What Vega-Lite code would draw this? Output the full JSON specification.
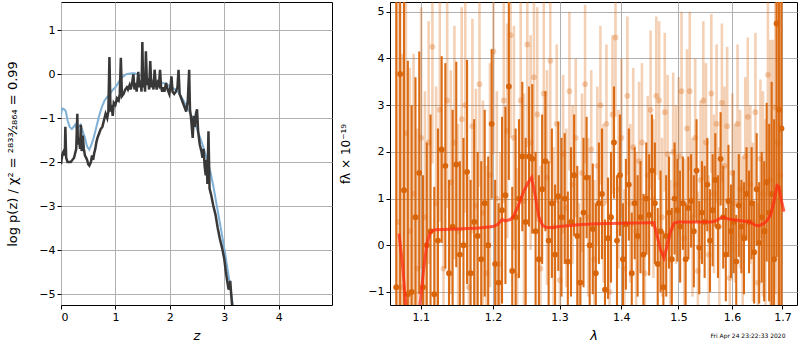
{
  "$schema": "https://vega.github.io/schema/vega-lite/v6.json",
  "padding": {"left": 6, "top": 1, "right": 1, "bottom": 0},
  "spacing": 6,
  "background": "white",
  "title": {"text": "Fri Apr 24 23:22:33 2020", "orient": "bottom", "anchor": "end", "fontSize": 6, "fontWeight": "normal", "font": "DejaVu Sans", "color": "black", "offset": -10, "dx": -12},
  "config": {
    "font": "DejaVu Sans",
    "view": {"stroke": "black", "strokeWidth": 1},
    "axis": {
      "grid": true, "gridColor": "#b0b0b0", "gridWidth": 1, "domain": false,
      "tickColor": "black", "tickSize": 4, "tickWidth": 1,
      "labelFontSize": 11, "labelColor": "black", "labelPadding": 2,
      "titleFontSize": 12, "titleFontWeight": "normal", "titleColor": "black", "titleFont": "DejaVu Sans",
      "labelExpr": "replace(datum.label, '-', '−')"
    }
  },
  "datasets": {
    "pz": [
      {"s":"prior","z":0.00,"v":-0.95},{"s":"prior","z":0.02,"v":-0.78},{"s":"prior","z":0.06,"v":-0.8},{"s":"prior","z":0.09,"v":-0.85},{"s":"prior","z":0.12,"v":-1.05},{"s":"prior","z":0.16,"v":-1.2},{"s":"prior","z":0.20,"v":-1.25},{"s":"prior","z":0.23,"v":-1.2},{"s":"prior","z":0.26,"v":-1.15},{"s":"prior","z":0.29,"v":-1.25},{"s":"prior","z":0.32,"v":-1.2},{"s":"prior","z":0.36,"v":-1.15},{"s":"prior","z":0.40,"v":-1.3},{"s":"prior","z":0.44,"v":-1.45},{"s":"prior","z":0.48,"v":-1.65},{"s":"prior","z":0.52,"v":-1.72},{"s":"prior","z":0.56,"v":-1.6},{"s":"prior","z":0.60,"v":-1.45},{"s":"prior","z":0.65,"v":-1.2},{"s":"prior","z":0.70,"v":-0.95},{"s":"prior","z":0.75,"v":-0.75},{"s":"prior","z":0.80,"v":-0.6},{"s":"prior","z":0.85,"v":-0.52},{"s":"prior","z":0.90,"v":-0.45},{"s":"prior","z":0.95,"v":-0.36},{"s":"prior","z":1.00,"v":-0.3},{"s":"prior","z":1.05,"v":-0.2},{"s":"prior","z":1.10,"v":-0.1},{"s":"prior","z":1.15,"v":-0.05},{"s":"prior","z":1.20,"v":0.0},{"s":"prior","z":1.25,"v":0.01},{"s":"prior","z":1.30,"v":0.02},{"s":"prior","z":1.35,"v":0.02},{"s":"prior","z":1.40,"v":0.0},{"s":"prior","z":1.50,"v":-0.05},{"s":"prior","z":1.60,"v":-0.1},{"s":"prior","z":1.70,"v":-0.15},{"s":"prior","z":1.80,"v":-0.18},{"s":"prior","z":1.90,"v":-0.21},{"s":"prior","z":2.00,"v":-0.27},{"s":"prior","z":2.10,"v":-0.35},{"s":"prior","z":2.15,"v":-0.4},{"s":"prior","z":2.20,"v":-0.5},{"s":"prior","z":2.25,"v":-0.6},{"s":"prior","z":2.30,"v":-0.72},{"s":"prior","z":2.35,"v":-0.83},{"s":"prior","z":2.40,"v":-0.95},{"s":"prior","z":2.45,"v":-1.1},{"s":"prior","z":2.50,"v":-1.25},{"s":"prior","z":2.55,"v":-1.42},{"s":"prior","z":2.60,"v":-1.6},{"s":"prior","z":2.65,"v":-1.8},{"s":"prior","z":2.70,"v":-2.0},{"s":"prior","z":2.75,"v":-2.25},{"s":"prior","z":2.80,"v":-2.55},{"s":"prior","z":2.85,"v":-2.9},{"s":"prior","z":2.90,"v":-3.25},{"s":"prior","z":2.95,"v":-3.6},{"s":"prior","z":3.00,"v":-3.95},{"s":"prior","z":3.05,"v":-4.35},{"s":"prior","z":3.10,"v":-4.75},{"s":"prior","z":3.17,"v":-5.35},
      {"s":"pz","z":0.00,"v":-2.05},{"s":"pz","z":0.01,"v":-1.95},{"s":"pz","z":0.03,"v":-1.8},{"s":"pz","z":0.05,"v":-1.75},{"s":"pz","z":0.07,"v":-1.85},{"s":"pz","z":0.08,"v":-1.2},{"s":"pz","z":0.095,"v":-1.9},{"s":"pz","z":0.12,"v":-2.0},{"s":"pz","z":0.15,"v":-2.0},{"s":"pz","z":0.18,"v":-2.0},{"s":"pz","z":0.21,"v":-1.95},{"s":"pz","z":0.24,"v":-1.9},{"s":"pz","z":0.26,"v":-1.8},{"s":"pz","z":0.28,"v":-1.7},{"s":"pz","z":0.30,"v":-0.9},{"s":"pz","z":0.31,"v":-1.6},{"s":"pz","z":0.33,"v":-1.45},{"s":"pz","z":0.35,"v":-1.7},{"s":"pz","z":0.365,"v":-1.15},{"s":"pz","z":0.38,"v":-1.75},{"s":"pz","z":0.40,"v":-1.4},{"s":"pz","z":0.42,"v":-1.7},{"s":"pz","z":0.44,"v":-1.85},{"s":"pz","z":0.46,"v":-1.9},{"s":"pz","z":0.48,"v":-1.95},{"s":"pz","z":0.50,"v":-2.05},{"s":"pz","z":0.52,"v":-2.08},{"s":"pz","z":0.55,"v":-2.0},{"s":"pz","z":0.57,"v":-1.85},{"s":"pz","z":0.59,"v":-1.95},{"s":"pz","z":0.61,"v":-1.8},{"s":"pz","z":0.63,"v":-1.7},{"s":"pz","z":0.65,"v":-1.55},{"s":"pz","z":0.67,"v":-1.45},{"s":"pz","z":0.70,"v":-1.35},{"s":"pz","z":0.73,"v":-1.25},{"s":"pz","z":0.76,"v":-1.2},{"s":"pz","z":0.79,"v":-1.05},{"s":"pz","z":0.82,"v":-0.9},{"s":"pz","z":0.85,"v":-1.0},{"s":"pz","z":0.87,"v":-0.85},{"s":"pz","z":0.89,"v":0.39},{"s":"pz","z":0.91,"v":-0.85},{"s":"pz","z":0.93,"v":-0.7},{"s":"pz","z":0.95,"v":-0.95},{"s":"pz","z":0.97,"v":-0.65},{"s":"pz","z":1.00,"v":-0.7},{"s":"pz","z":1.03,"v":-0.55},{"s":"pz","z":1.06,"v":-0.6},{"s":"pz","z":1.08,"v":-0.45},{"s":"pz","z":1.10,"v":0.37},{"s":"pz","z":1.12,"v":-0.5},{"s":"pz","z":1.15,"v":-0.45},{"s":"pz","z":1.18,"v":-0.35},{"s":"pz","z":1.21,"v":-0.3},{"s":"pz","z":1.23,"v":-0.35},{"s":"pz","z":1.26,"v":-0.25},{"s":"pz","z":1.28,"v":-0.35},{"s":"pz","z":1.30,"v":-0.25},{"s":"pz","z":1.33,"v":0.0},{"s":"pz","z":1.35,"v":-0.35},{"s":"pz","z":1.37,"v":-0.2},{"s":"pz","z":1.39,"v":-0.4},{"s":"pz","z":1.42,"v":0.05},{"s":"pz","z":1.44,"v":-0.3},{"s":"pz","z":1.46,"v":-0.15},{"s":"pz","z":1.48,"v":-0.4},{"s":"pz","z":1.495,"v":0.73},{"s":"pz","z":1.51,"v":-0.3},{"s":"pz","z":1.53,"v":-0.05},{"s":"pz","z":1.545,"v":-0.4},{"s":"pz","z":1.56,"v":0.52},{"s":"pz","z":1.58,"v":-0.25},{"s":"pz","z":1.60,"v":-0.1},{"s":"pz","z":1.62,"v":-0.35},{"s":"pz","z":1.64,"v":0.3},{"s":"pz","z":1.66,"v":-0.3},{"s":"pz","z":1.68,"v":-0.15},{"s":"pz","z":1.70,"v":-0.35},{"s":"pz","z":1.72,"v":0.1},{"s":"pz","z":1.74,"v":-0.2},{"s":"pz","z":1.76,"v":-0.35},{"s":"pz","z":1.78,"v":-0.2},{"s":"pz","z":1.80,"v":-0.25},{"s":"pz","z":1.82,"v":0.1},{"s":"pz","z":1.84,"v":-0.3},{"s":"pz","z":1.86,"v":-0.4},{"s":"pz","z":1.88,"v":-0.3},{"s":"pz","z":1.90,"v":-0.4},{"s":"pz","z":1.93,"v":-0.2},{"s":"pz","z":1.96,"v":-0.35},{"s":"pz","z":1.99,"v":-0.45},{"s":"pz","z":2.01,"v":-0.3},{"s":"pz","z":2.03,"v":-0.05},{"s":"pz","z":2.05,"v":-0.4},{"s":"pz","z":2.08,"v":-0.45},{"s":"pz","z":2.11,"v":-0.4},{"s":"pz","z":2.14,"v":-0.3},{"s":"pz","z":2.16,"v":0.1},{"s":"pz","z":2.18,"v":-0.45},{"s":"pz","z":2.21,"v":-0.55},{"s":"pz","z":2.24,"v":-0.65},{"s":"pz","z":2.27,"v":-0.75},{"s":"pz","z":2.30,"v":-0.85},{"s":"pz","z":2.33,"v":-0.6},{"s":"pz","z":2.355,"v":0.1},{"s":"pz","z":2.37,"v":-0.8},{"s":"pz","z":2.39,"v":-1.0},{"s":"pz","z":2.41,"v":-1.3},{"s":"pz","z":2.42,"v":-1.45},{"s":"pz","z":2.44,"v":-0.95},{"s":"pz","z":2.46,"v":-1.2},{"s":"pz","z":2.48,"v":-0.9},{"s":"pz","z":2.50,"v":-0.8},{"s":"pz","z":2.52,"v":-1.3},{"s":"pz","z":2.55,"v":-1.6},{"s":"pz","z":2.58,"v":-1.75},{"s":"pz","z":2.60,"v":-1.9},{"s":"pz","z":2.62,"v":-1.7},{"s":"pz","z":2.64,"v":-2.1},{"s":"pz","z":2.66,"v":-2.3},{"s":"pz","z":2.68,"v":-1.95},{"s":"pz","z":2.69,"v":-2.5},{"s":"pz","z":2.71,"v":-1.3},{"s":"pz","z":2.73,"v":-2.6},{"s":"pz","z":2.76,"v":-2.75},{"s":"pz","z":2.80,"v":-3.0},{"s":"pz","z":2.84,"v":-3.2},{"s":"pz","z":2.88,"v":-3.5},{"s":"pz","z":2.92,"v":-3.75},{"s":"pz","z":2.96,"v":-3.95},{"s":"pz","z":3.00,"v":-4.2},{"s":"pz","z":3.03,"v":-4.5},{"s":"pz","z":3.06,"v":-4.75},{"s":"pz","z":3.08,"v":-4.9},{"s":"pz","z":3.10,"v":-4.8},{"s":"pz","z":3.11,"v":-4.7},{"s":"pz","z":3.13,"v":-5.05},{"s":"pz","z":3.15,"v":-5.35}
    ],
    "spec": [
      {"s":"b","w":1.0705,"f":0.5,"lo":-5.5,"hi":6.5},{"s":"b","w":1.0755,"f":-0.9,"lo":-5.9,"hi":4.1},{"s":"b","w":1.0805,"f":2.4,"lo":-1.6,"hi":6.4},{"s":"b","w":1.0855,"f":0.3,"lo":-3.2,"hi":3.8},{"s":"b","w":1.0905,"f":1.1,"lo":-1.9,"hi":4.1},{"s":"b","w":1.0955,"f":-0.5,"lo":-3.5,"hi":2.5},{"s":"b","w":1.1005,"f":2.3,"lo":-0.5,"hi":5.1},{"s":"b","w":1.1055,"f":0.6,"lo":-2.1,"hi":3.3},{"s":"b","w":1.1105,"f":2.2,"lo":-0.4,"hi":4.8},{"s":"b","w":1.1155,"f":4.25,"lo":1.75,"hi":6.75},{"s":"b","w":1.1205,"f":0.9,"lo":-1.6,"hi":3.4},{"s":"b","w":1.1255,"f":2.9,"lo":0.5,"hi":5.3},{"s":"b","w":1.1305,"f":-0.5,"lo":-3.0,"hi":2.0},{"s":"b","w":1.1355,"f":3.1,"lo":0.8,"hi":5.4},{"s":"b","w":1.1405,"f":1.35,"lo":-1.05,"hi":3.75},{"s":"b","w":1.1455,"f":2.2,"lo":-0.3,"hi":4.7},{"s":"b","w":1.1505,"f":0.3,"lo":-2.0,"hi":2.6},{"s":"b","w":1.1555,"f":2.7,"lo":0.3,"hi":5.1},{"s":"b","w":1.1605,"f":3.0,"lo":0.7,"hi":5.3},{"s":"b","w":1.1655,"f":-0.9,"lo":-3.3,"hi":1.5},{"s":"b","w":1.1705,"f":2.55,"lo":0.25,"hi":4.85},{"s":"b","w":1.1755,"f":0.85,"lo":-1.65,"hi":3.35},{"s":"b","w":1.1805,"f":3.45,"lo":1.25,"hi":5.65},{"s":"b","w":1.1855,"f":0.7,"lo":-1.7,"hi":3.1},{"s":"b","w":1.1905,"f":-0.6,"lo":-2.9,"hi":1.7},{"s":"b","w":1.1955,"f":1.5,"lo":-0.9,"hi":3.9},{"s":"b","w":1.2005,"f":4.15,"lo":1.95,"hi":6.35},{"s":"b","w":1.2055,"f":1.0,"lo":-1.3,"hi":3.3},{"s":"b","w":1.2105,"f":-0.4,"lo":-2.8,"hi":2.0},{"s":"b","w":1.2155,"f":3.1,"lo":0.9,"hi":5.3},{"s":"b","w":1.2205,"f":2.45,"lo":0.15,"hi":4.75},{"s":"b","w":1.2255,"f":4.5,"lo":2.3,"hi":6.7},{"s":"b","w":1.2305,"f":2.3,"lo":-0.1,"hi":4.7},{"s":"b","w":1.2355,"f":-0.65,"lo":-2.95,"hi":1.65},{"s":"b","w":1.2405,"f":3.1,"lo":0.9,"hi":5.3},{"s":"b","w":1.2455,"f":0.95,"lo":-1.35,"hi":3.25},{"s":"b","w":1.2505,"f":4.3,"lo":2.1,"hi":6.5},{"s":"b","w":1.2555,"f":2.2,"lo":-0.1,"hi":4.5},{"s":"b","w":1.2605,"f":3.6,"lo":1.4,"hi":5.8},{"s":"b","w":1.2655,"f":2.8,"lo":0.5,"hi":5.1},{"s":"b","w":1.2705,"f":-0.5,"lo":-2.7,"hi":1.7},{"s":"b","w":1.2755,"f":3.25,"lo":1.15,"hi":5.35},{"s":"b","w":1.2805,"f":1.45,"lo":-0.85,"hi":3.75},{"s":"b","w":1.2855,"f":3.95,"lo":1.75,"hi":6.15},
      {"s":"b","w":1.2905,"f":0.4,"lo":-1.3,"hi":2.1},{"s":"b","w":1.2955,"f":2.6,"lo":0.9,"hi":4.3},{"s":"b","w":1.3005,"f":-0.75,"lo":-2.45,"hi":0.95},{"s":"b","w":1.3055,"f":1.95,"lo":0.25,"hi":3.65},{"s":"b","w":1.3105,"f":0.8,"lo":-0.9,"hi":2.5},{"s":"b","w":1.3155,"f":3.3,"lo":1.6,"hi":5.0},{"s":"b","w":1.3205,"f":1.3,"lo":-0.4,"hi":3.0},{"s":"b","w":1.3255,"f":2.3,"lo":0.6,"hi":4.0},{"s":"b","w":1.3305,"f":-0.8,"lo":-2.5,"hi":0.9},{"s":"b","w":1.3355,"f":1.55,"lo":-0.15,"hi":3.25},{"s":"b","w":1.3405,"f":3.45,"lo":1.75,"hi":5.15},{"s":"b","w":1.3455,"f":0.6,"lo":-1.1,"hi":2.3},{"s":"b","w":1.3505,"f":2.05,"lo":0.35,"hi":3.75},{"s":"b","w":1.3555,"f":-0.3,"lo":-2.0,"hi":1.4},{"s":"b","w":1.3605,"f":1.7,"lo":0.0,"hi":3.4},{"s":"b","w":1.3655,"f":3.0,"lo":1.3,"hi":4.7},{"s":"b","w":1.3705,"f":0.9,"lo":-0.8,"hi":2.6},{"s":"b","w":1.3755,"f":2.6,"lo":0.9,"hi":4.3},{"s":"b","w":1.3805,"f":-1.0,"lo":-2.7,"hi":0.7},{"s":"b","w":1.3855,"f":2.8,"lo":1.1,"hi":4.5},{"s":"b","w":1.3905,"f":4.45,"lo":2.75,"hi":6.15},{"s":"b","w":1.3955,"f":1.2,"lo":-0.5,"hi":2.9},{"s":"b","w":1.4005,"f":2.3,"lo":0.6,"hi":4.0},{"s":"b","w":1.4055,"f":-0.5,"lo":-2.2,"hi":1.2},{"s":"b","w":1.4105,"f":3.2,"lo":1.5,"hi":4.9},{"s":"b","w":1.4155,"f":0.9,"lo":-0.8,"hi":2.6},{"s":"b","w":1.4205,"f":2.1,"lo":0.4,"hi":3.8},{"s":"b","w":1.4255,"f":0.3,"lo":-1.4,"hi":2.0},{"s":"b","w":1.4305,"f":1.8,"lo":0.1,"hi":3.5},{"s":"b","w":1.4355,"f":2.2,"lo":0.5,"hi":3.9},{"s":"b","w":1.4405,"f":-0.6,"lo":-2.3,"hi":1.1},{"s":"b","w":1.4455,"f":1.5,"lo":-0.2,"hi":3.2},{"s":"b","w":1.4505,"f":2.9,"lo":1.2,"hi":4.6},{"s":"b","w":1.4555,"f":1.0,"lo":-0.7,"hi":2.7},{"s":"b","w":1.4605,"f":3.2,"lo":1.5,"hi":4.9},{"s":"b","w":1.4655,"f":3.1,"lo":1.4,"hi":4.8},{"s":"b","w":1.4705,"f":0.6,"lo":-1.1,"hi":2.3},{"s":"b","w":1.4755,"f":2.85,"lo":1.15,"hi":4.55},{"s":"b","w":1.4805,"f":1.95,"lo":0.25,"hi":3.65},{"s":"b","w":1.4855,"f":-0.3,"lo":-2.0,"hi":1.4},{"s":"b","w":1.4905,"f":2.0,"lo":0.3,"hi":3.7},{"s":"b","w":1.4955,"f":1.3,"lo":-0.4,"hi":3.0},{"s":"b","w":1.5005,"f":1.9,"lo":0.2,"hi":3.6},{"s":"b","w":1.5055,"f":3.3,"lo":1.6,"hi":5.0},{"s":"b","w":1.5105,"f":0.15,"lo":-1.55,"hi":1.85},{"s":"b","w":1.5155,"f":2.5,"lo":0.8,"hi":4.2},{"s":"b","w":1.5205,"f":3.3,"lo":1.6,"hi":5.0},{"s":"b","w":1.5255,"f":0.6,"lo":-1.1,"hi":2.3},{"s":"b","w":1.5305,"f":2.3,"lo":0.6,"hi":4.0},{"s":"b","w":1.5355,"f":-0.55,"lo":-2.25,"hi":1.15},{"s":"b","w":1.5405,"f":1.4,"lo":-0.3,"hi":3.1},{"s":"b","w":1.5455,"f":3.1,"lo":1.4,"hi":4.8},{"s":"b","w":1.5505,"f":2.2,"lo":0.5,"hi":3.9},{"s":"b","w":1.5555,"f":-0.2,"lo":-1.9,"hi":1.5},{"s":"b","w":1.5605,"f":3.25,"lo":1.55,"hi":4.95},{"s":"b","w":1.5655,"f":1.1,"lo":-0.6,"hi":2.8},{"s":"b","w":1.5705,"f":2.6,"lo":0.9,"hi":4.3},{"s":"b","w":1.5755,"f":0.4,"lo":-1.3,"hi":2.1},{"s":"b","w":1.5805,"f":3.05,"lo":1.35,"hi":4.75},{"s":"b","w":1.5855,"f":1.7,"lo":0.0,"hi":3.4},{"s":"b","w":1.5905,"f":2.55,"lo":0.85,"hi":4.25},{"s":"b","w":1.5955,"f":-0.7,"lo":-2.4,"hi":1.0},{"s":"b","w":1.6005,"f":1.55,"lo":-0.15,"hi":3.25},{"s":"b","w":1.6055,"f":0.9,"lo":-0.8,"hi":2.6},{"s":"b","w":1.6105,"f":2.6,"lo":0.9,"hi":4.3},{"s":"b","w":1.6155,"f":1.2,"lo":-0.5,"hi":2.9},{"s":"b","w":1.6205,"f":0.2,"lo":-1.5,"hi":1.9},{"s":"b","w":1.6255,"f":1.9,"lo":0.2,"hi":3.6},{"s":"b","w":1.6305,"f":2.75,"lo":1.05,"hi":4.45},{"s":"b","w":1.6355,"f":1.3,"lo":-0.4,"hi":3.0},{"s":"b","w":1.6405,"f":0.5,"lo":-1.2,"hi":2.2},{"s":"b","w":1.6455,"f":2.85,"lo":1.15,"hi":4.55},{"s":"b","w":1.6505,"f":-0.8,"lo":-2.5,"hi":0.9},{"s":"b","w":1.6555,"f":1.85,"lo":0.15,"hi":3.55},{"s":"b","w":1.6605,"f":1.1,"lo":-1.1,"hi":3.3},{"s":"b","w":1.6655,"f":0.3,"lo":-2.1,"hi":2.7},{"s":"b","w":1.6705,"f":3.65,"lo":1.05,"hi":6.25},{"s":"b","w":1.6755,"f":1.4,"lo":-1.6,"hi":4.4},{"s":"b","w":1.6805,"f":0.9,"lo":-2.6,"hi":4.4},{"s":"b","w":1.6855,"f":2.95,"lo":-1.05,"hi":6.95},{"s":"b","w":1.6905,"f":2.2,"lo":-2.8,"hi":7.2},{"s":"b","w":1.6955,"f":1.5,"lo":-4.5,"hi":7.5},
      {"s":"a","w":1.068,"f":-0.9,"lo":-7.9,"hi":6.1},{"s":"a","w":1.073,"f":3.67,"lo":-3.33,"hi":10.67},{"s":"a","w":1.078,"f":1.18,"lo":-4.82,"hi":7.18},{"s":"a","w":1.083,"f":-1.05,"lo":-6.05,"hi":3.95},{"s":"a","w":1.088,"f":-1.0,"lo":-5.0,"hi":3.0},{"s":"a","w":1.093,"f":0.6,"lo":-2.4,"hi":3.6},{"s":"a","w":1.098,"f":1.55,"lo":-1.05,"hi":4.15},{"s":"a","w":1.103,"f":-0.9,"lo":-3.3,"hi":1.5},{"s":"a","w":1.108,"f":0.0,"lo":-2.2,"hi":2.2},{"s":"a","w":1.113,"f":0.3,"lo":-2.2,"hi":2.8},{"s":"a","w":1.118,"f":-1.05,"lo":-3.35,"hi":1.25},{"s":"a","w":1.123,"f":0.1,"lo":-2.3,"hi":2.5},{"s":"a","w":1.128,"f":2.05,"lo":0.05,"hi":4.05},{"s":"a","w":1.133,"f":1.7,"lo":-0.5,"hi":3.9},{"s":"a","w":1.138,"f":-0.6,"lo":-2.6,"hi":1.4},{"s":"a","w":1.143,"f":0.4,"lo":-2.1,"hi":2.9},{"s":"a","w":1.148,"f":1.73,"lo":-0.47,"hi":3.93},{"s":"a","w":1.153,"f":-0.2,"lo":-2.2,"hi":1.8},{"s":"a","w":1.158,"f":0.0,"lo":-2.3,"hi":2.3},{"s":"a","w":1.163,"f":1.57,"lo":-0.83,"hi":3.97},{"s":"a","w":1.168,"f":-0.6,"lo":-2.6,"hi":1.4},{"s":"a","w":1.173,"f":0.5,"lo":-1.7,"hi":2.7},{"s":"a","w":1.178,"f":0.2,"lo":-1.6,"hi":2.0},{"s":"a","w":1.183,"f":-0.3,"lo":-2.4,"hi":1.8},{"s":"a","w":1.188,"f":0.9,"lo":-1.1,"hi":2.9},{"s":"a","w":1.193,"f":0.0,"lo":-1.9,"hi":1.9},{"s":"a","w":1.198,"f":2.6,"lo":1.0,"hi":4.2},{"s":"a","w":1.203,"f":-0.4,"lo":-2.2,"hi":1.4},{"s":"a","w":1.208,"f":-0.8,"lo":-2.5,"hi":0.9},{"s":"a","w":1.213,"f":0.75,"lo":-1.25,"hi":2.75},{"s":"a","w":1.218,"f":1.07,"lo":-0.83,"hi":2.97},{"s":"a","w":1.223,"f":3.4,"lo":1.4,"hi":5.4},{"s":"a","w":1.228,"f":-0.55,"lo":-2.35,"hi":1.25},{"s":"a","w":1.233,"f":0.6,"lo":-1.3,"hi":2.5},{"s":"a","w":1.238,"f":1.0,"lo":-0.7,"hi":2.7},{"s":"a","w":1.243,"f":1.9,"lo":0.3,"hi":3.5},{"s":"a","w":1.248,"f":0.5,"lo":-1.3,"hi":2.3},{"s":"a","w":1.253,"f":1.9,"lo":0.4,"hi":3.4},{"s":"a","w":1.258,"f":1.85,"lo":0.25,"hi":3.45},{"s":"a","w":1.263,"f":0.3,"lo":-1.4,"hi":2.0},{"s":"a","w":1.268,"f":-0.3,"lo":-2.1,"hi":1.5},{"s":"a","w":1.273,"f":1.2,"lo":-0.4,"hi":2.8},{"s":"a","w":1.278,"f":1.8,"lo":0.3,"hi":3.3},{"s":"a","w":1.283,"f":0.1,"lo":-1.6,"hi":1.8},{"s":"a","w":1.288,"f":0.9,"lo":-0.7,"hi":2.5},{"s":"a","w":1.293,"f":-0.2,"lo":-1.7,"hi":1.3},{"s":"a","w":1.298,"f":1.05,"lo":-0.55,"hi":2.65},{"s":"a","w":1.303,"f":0.6,"lo":-1.1,"hi":2.3},{"s":"a","w":1.308,"f":1.0,"lo":-0.4,"hi":2.4},{"s":"a","w":1.313,"f":-0.35,"lo":-1.85,"hi":1.15},{"s":"a","w":1.318,"f":0.5,"lo":-1.1,"hi":2.1},{"s":"a","w":1.323,"f":1.5,"lo":0.2,"hi":2.8},{"s":"a","w":1.328,"f":0.2,"lo":-1.3,"hi":1.7},{"s":"a","w":1.333,"f":-0.8,"lo":-2.2,"hi":0.6},{"s":"a","w":1.338,"f":0.7,"lo":-0.9,"hi":2.3},{"s":"a","w":1.343,"f":1.45,"lo":0.15,"hi":2.75},{"s":"a","w":1.348,"f":0.0,"lo":-1.5,"hi":1.5},{"s":"a","w":1.353,"f":0.35,"lo":-1.05,"hi":1.75},{"s":"a","w":1.358,"f":-0.6,"lo":-2.1,"hi":0.9},{"s":"a","w":1.363,"f":0.9,"lo":-0.4,"hi":2.2},{"s":"a","w":1.368,"f":1.1,"lo":-0.3,"hi":2.5},{"s":"a","w":1.373,"f":-0.95,"lo":-2.45,"hi":0.55},{"s":"a","w":1.378,"f":0.15,"lo":-1.15,"hi":1.45},{"s":"a","w":1.383,"f":0.6,"lo":-0.8,"hi":2.0},{"s":"a","w":1.388,"f":2.2,"lo":1.0,"hi":3.4},{"s":"a","w":1.393,"f":0.1,"lo":-1.3,"hi":1.5},{"s":"a","w":1.398,"f":1.5,"lo":0.2,"hi":2.8},{"s":"a","w":1.403,"f":-0.3,"lo":-1.5,"hi":0.9},{"s":"a","w":1.408,"f":0.45,"lo":-0.95,"hi":1.85},{"s":"a","w":1.413,"f":1.3,"lo":0.1,"hi":2.5},{"s":"a","w":1.418,"f":-0.6,"lo":-1.9,"hi":0.7},{"s":"a","w":1.423,"f":0.9,"lo":-0.3,"hi":2.1},{"s":"a","w":1.428,"f":0.2,"lo":-1.1,"hi":1.5},{"s":"a","w":1.433,"f":0.6,"lo":-0.6,"hi":1.8},{"s":"a","w":1.438,"f":-0.2,"lo":-1.5,"hi":1.1},{"s":"a","w":1.443,"f":1.0,"lo":-0.2,"hi":2.2},{"s":"a","w":1.448,"f":0.65,"lo":-0.65,"hi":1.95},{"s":"a","w":1.453,"f":1.6,"lo":0.4,"hi":2.8},{"s":"a","w":1.458,"f":0.9,"lo":-0.4,"hi":2.2},{"s":"a","w":1.463,"f":-0.4,"lo":-1.6,"hi":0.8},{"s":"a","w":1.468,"f":0.3,"lo":-1.0,"hi":1.6},{"s":"a","w":1.473,"f":-0.9,"lo":-2.1,"hi":0.3},{"s":"a","w":1.478,"f":0.2,"lo":-1.1,"hi":1.5},{"s":"a","w":1.483,"f":0.7,"lo":-0.5,"hi":1.9},{"s":"a","w":1.488,"f":-0.3,"lo":-1.4,"hi":0.8},{"s":"a","w":1.493,"f":1.0,"lo":-0.2,"hi":2.2},{"s":"a","w":1.498,"f":0.75,"lo":-0.35,"hi":1.85},{"s":"a","w":1.503,"f":0.4,"lo":-0.8,"hi":1.6},{"s":"a","w":1.508,"f":0.9,"lo":-0.1,"hi":1.9},{"s":"a","w":1.513,"f":-0.3,"lo":-1.5,"hi":0.9},{"s":"a","w":1.518,"f":0.8,"lo":-0.3,"hi":1.9},{"s":"a","w":1.523,"f":0.95,"lo":-0.05,"hi":1.95},{"s":"a","w":1.528,"f":0.3,"lo":-0.9,"hi":1.5},{"s":"a","w":1.533,"f":1.6,"lo":0.5,"hi":2.7},{"s":"a","w":1.538,"f":-0.05,"lo":-1.05,"hi":0.95},{"s":"a","w":1.543,"f":0.7,"lo":-0.4,"hi":1.8},{"s":"a","w":1.548,"f":0.5,"lo":-0.7,"hi":1.7},{"s":"a","w":1.553,"f":1.3,"lo":0.3,"hi":2.3},{"s":"a","w":1.558,"f":0.1,"lo":-1.0,"hi":1.2},{"s":"a","w":1.563,"f":0.75,"lo":-0.45,"hi":1.95},{"s":"a","w":1.568,"f":1.4,"lo":0.4,"hi":2.4},{"s":"a","w":1.573,"f":0.4,"lo":-0.7,"hi":1.5},{"s":"a","w":1.578,"f":1.85,"lo":0.85,"hi":2.85},{"s":"a","w":1.583,"f":0.6,"lo":-0.5,"hi":1.7},{"s":"a","w":1.588,"f":-0.2,"lo":-1.2,"hi":0.8},{"s":"a","w":1.593,"f":0.95,"lo":-0.25,"hi":2.15},{"s":"a","w":1.598,"f":0.3,"lo":-0.7,"hi":1.3},{"s":"a","w":1.603,"f":0.5,"lo":-0.6,"hi":1.6},{"s":"a","w":1.608,"f":-0.35,"lo":-1.35,"hi":0.65},{"s":"a","w":1.613,"f":0.85,"lo":-0.25,"hi":1.95},{"s":"a","w":1.618,"f":0.4,"lo":-0.6,"hi":1.4},{"s":"a","w":1.623,"f":0.15,"lo":-1.05,"hi":1.35},{"s":"a","w":1.628,"f":1.1,"lo":0.1,"hi":2.1},{"s":"a","w":1.633,"f":0.5,"lo":-0.6,"hi":1.6},{"s":"a","w":1.638,"f":0.9,"lo":-0.3,"hi":2.1},{"s":"a","w":1.643,"f":-0.15,"lo":-1.25,"hi":0.95},{"s":"a","w":1.648,"f":1.2,"lo":0.0,"hi":2.4},{"s":"a","w":1.653,"f":0.05,"lo":-1.25,"hi":1.35},{"s":"a","w":1.658,"f":0.6,"lo":-0.8,"hi":2.0},{"s":"a","w":1.663,"f":0.3,"lo":-1.2,"hi":1.8},{"s":"a","w":1.668,"f":1.35,"lo":-0.35,"hi":3.05},{"s":"a","w":1.673,"f":0.7,"lo":-1.2,"hi":2.6},{"s":"a","w":1.678,"f":1.1,"lo":-1.3,"hi":3.5},{"s":"a","w":1.683,"f":-0.3,"lo":-3.3,"hi":2.7},{"s":"a","w":1.688,"f":4.75,"lo":-0.25,"hi":9.75},{"s":"a","w":1.693,"f":2.9,"lo":-2.1,"hi":7.9},{"s":"a","w":1.698,"f":2.5,"lo":-1.5,"hi":6.5}
    ],
    "model": [
      {"w":1.0715,"m":0.25},{"w":1.076,"m":-0.4},{"w":1.080,"m":-1.2},{"w":1.083,"m":-2.0},{"w":1.095,"m":-2.0},{"w":1.099,"m":-1.25},{"w":1.104,"m":-0.5},{"w":1.108,"m":0.03},{"w":1.112,"m":0.25},{"w":1.116,"m":0.32},{"w":1.12,"m":0.33},{"w":1.15,"m":0.35},{"w":1.18,"m":0.37},{"w":1.20,"m":0.4},{"w":1.207,"m":0.45},{"w":1.213,"m":0.55},{"w":1.218,"m":0.52},{"w":1.225,"m":0.55},{"w":1.23,"m":0.62},{"w":1.237,"m":0.85},{"w":1.245,"m":1.15},{"w":1.252,"m":1.35},{"w":1.257,"m":1.45},{"w":1.262,"m":1.1},{"w":1.268,"m":0.6},{"w":1.274,"m":0.42},{"w":1.28,"m":0.38},{"w":1.29,"m":0.38},{"w":1.30,"m":0.4},{"w":1.33,"m":0.44},{"w":1.36,"m":0.46},{"w":1.40,"m":0.47},{"w":1.45,"m":0.48},{"w":1.456,"m":0.48},{"w":1.462,"m":0.2},{"w":1.468,"m":-0.1},{"w":1.474,"m":-0.27},{"w":1.48,"m":0.0},{"w":1.486,"m":0.3},{"w":1.492,"m":0.47},{"w":1.50,"m":0.5},{"w":1.53,"m":0.5},{"w":1.56,"m":0.5},{"w":1.568,"m":0.52},{"w":1.578,"m":0.58},{"w":1.584,"m":0.6},{"w":1.59,"m":0.57},{"w":1.60,"m":0.55},{"w":1.62,"m":0.52},{"w":1.635,"m":0.5},{"w":1.645,"m":0.43},{"w":1.652,"m":0.42},{"w":1.66,"m":0.45},{"w":1.668,"m":0.52},{"w":1.676,"m":0.65},{"w":1.683,"m":0.95},{"w":1.689,"m":1.28},{"w":1.693,"m":1.25},{"w":1.698,"m":0.95},{"w":1.703,"m":0.72}
    ]
  },
  "hconcat": [
    {
      "width": 271,
      "height": 303,
      "layer": [
        {
          "data": {"name": "pz"},
          "transform": [{"filter": "datum.s === 'prior'"}],
          "mark": {"type": "line", "color": "#7fb0d6", "strokeWidth": 2, "clip": true},
          "encoding": {
            "x": {"field": "z", "type": "quantitative", "scale": {"domain": [0, 4.98], "nice": false, "zero": false},
                  "axis": {"values": [0, 1, 2, 3, 4], "title": "z", "titleFontStyle": "italic", "titleFontSize": 13, "titlePadding": 7}},
            "y": {"field": "v", "type": "quantitative", "scale": {"domain": [-5.25, 1.64], "nice": false, "zero": false},
                  "axis": {"values": [-5, -4, -3, -2, -1, 0, 1], "title": "log p(z) / χ² = ²⁸³³⁄₂₈₆₄ = 0.99", "titleFontSize": 13, "titlePadding": 19}}
          }
        },
        {
          "data": {"name": "pz"},
          "transform": [{"filter": "datum.s === 'pz'"}],
          "mark": {"type": "line", "color": "#383838", "strokeWidth": 2.5, "clip": true},
          "encoding": {
            "x": {"field": "z", "type": "quantitative"},
            "y": {"field": "v", "type": "quantitative"}
          }
        },
        {
          "mark": {"type": "text", "align": "right", "baseline": "middle", "fontSize": 11, "color": "black", "text": "j161312p5650"},
          "encoding": {"x": {"datum": 4.73}, "y": {"datum": 1.2}}
        },
        {
          "mark": {"type": "text", "align": "right", "baseline": "middle", "fontSize": 11, "color": "black", "text": "ID=854     z=1.5103"},
          "encoding": {"x": {"datum": 4.73}, "y": {"datum": 0.86}}
        }
      ]
    },
    {
      "width": 407,
      "height": 303,
      "layer": [
        {
          "data": {"name": "spec"},
          "transform": [{"filter": "datum.s === 'b'"}],
          "mark": {"type": "rule", "color": "#d9650b", "opacity": 0.3, "strokeWidth": 2.6, "clip": true},
          "encoding": {
            "x": {"field": "w", "type": "quantitative", "scale": {"type": "log", "domain": [1.06, 1.73], "nice": false},
                  "axis": {"values": [1.1, 1.2, 1.3, 1.4, 1.5, 1.6, 1.7], "format": ".1f", "title": "λ", "titleFontStyle": "italic", "titleFontSize": 13, "titlePadding": 7}},
            "y": {"field": "lo", "type": "quantitative", "scale": {"domain": [-1.28, 5.21], "nice": false, "zero": false},
                  "axis": {"values": [-1, 0, 1, 2, 3, 4, 5], "title": "fλ × 10⁻¹⁹", "titlePadding": 15}},
            "y2": {"field": "hi"}
          }
        },
        {
          "data": {"name": "spec"},
          "transform": [{"filter": "datum.s === 'b'"}],
          "mark": {"type": "circle", "color": "#d9650b", "opacity": 0.3, "size": 34, "clip": true},
          "encoding": {
            "x": {"field": "w", "type": "quantitative"},
            "y": {"field": "f", "type": "quantitative"}
          }
        },
        {
          "data": {"name": "spec"},
          "transform": [{"filter": "datum.s === 'a'"}],
          "mark": {"type": "rule", "color": "#d9650b", "opacity": 0.95, "strokeWidth": 2.1, "clip": true},
          "encoding": {
            "x": {"field": "w", "type": "quantitative"},
            "y": {"field": "lo", "type": "quantitative"},
            "y2": {"field": "hi"}
          }
        },
        {
          "data": {"name": "spec"},
          "transform": [{"filter": "datum.s === 'a'"}],
          "mark": {"type": "circle", "color": "#d9650b", "opacity": 1, "size": 34, "clip": true},
          "encoding": {
            "x": {"field": "w", "type": "quantitative"},
            "y": {"field": "f", "type": "quantitative"}
          }
        },
        {
          "data": {"name": "model"},
          "mark": {"type": "line", "color": "#ff2a10", "opacity": 0.75, "strokeWidth": 3, "clip": true},
          "encoding": {
            "x": {"field": "w", "type": "quantitative"},
            "y": {"field": "m", "type": "quantitative"}
          }
        },
        {
          "mark": {"type": "rule", "color": "black", "strokeWidth": 2, "strokeDash": [2, 3]},
          "encoding": {"y": {"datum": 0}}
        }
      ]
    }
  ]
}
